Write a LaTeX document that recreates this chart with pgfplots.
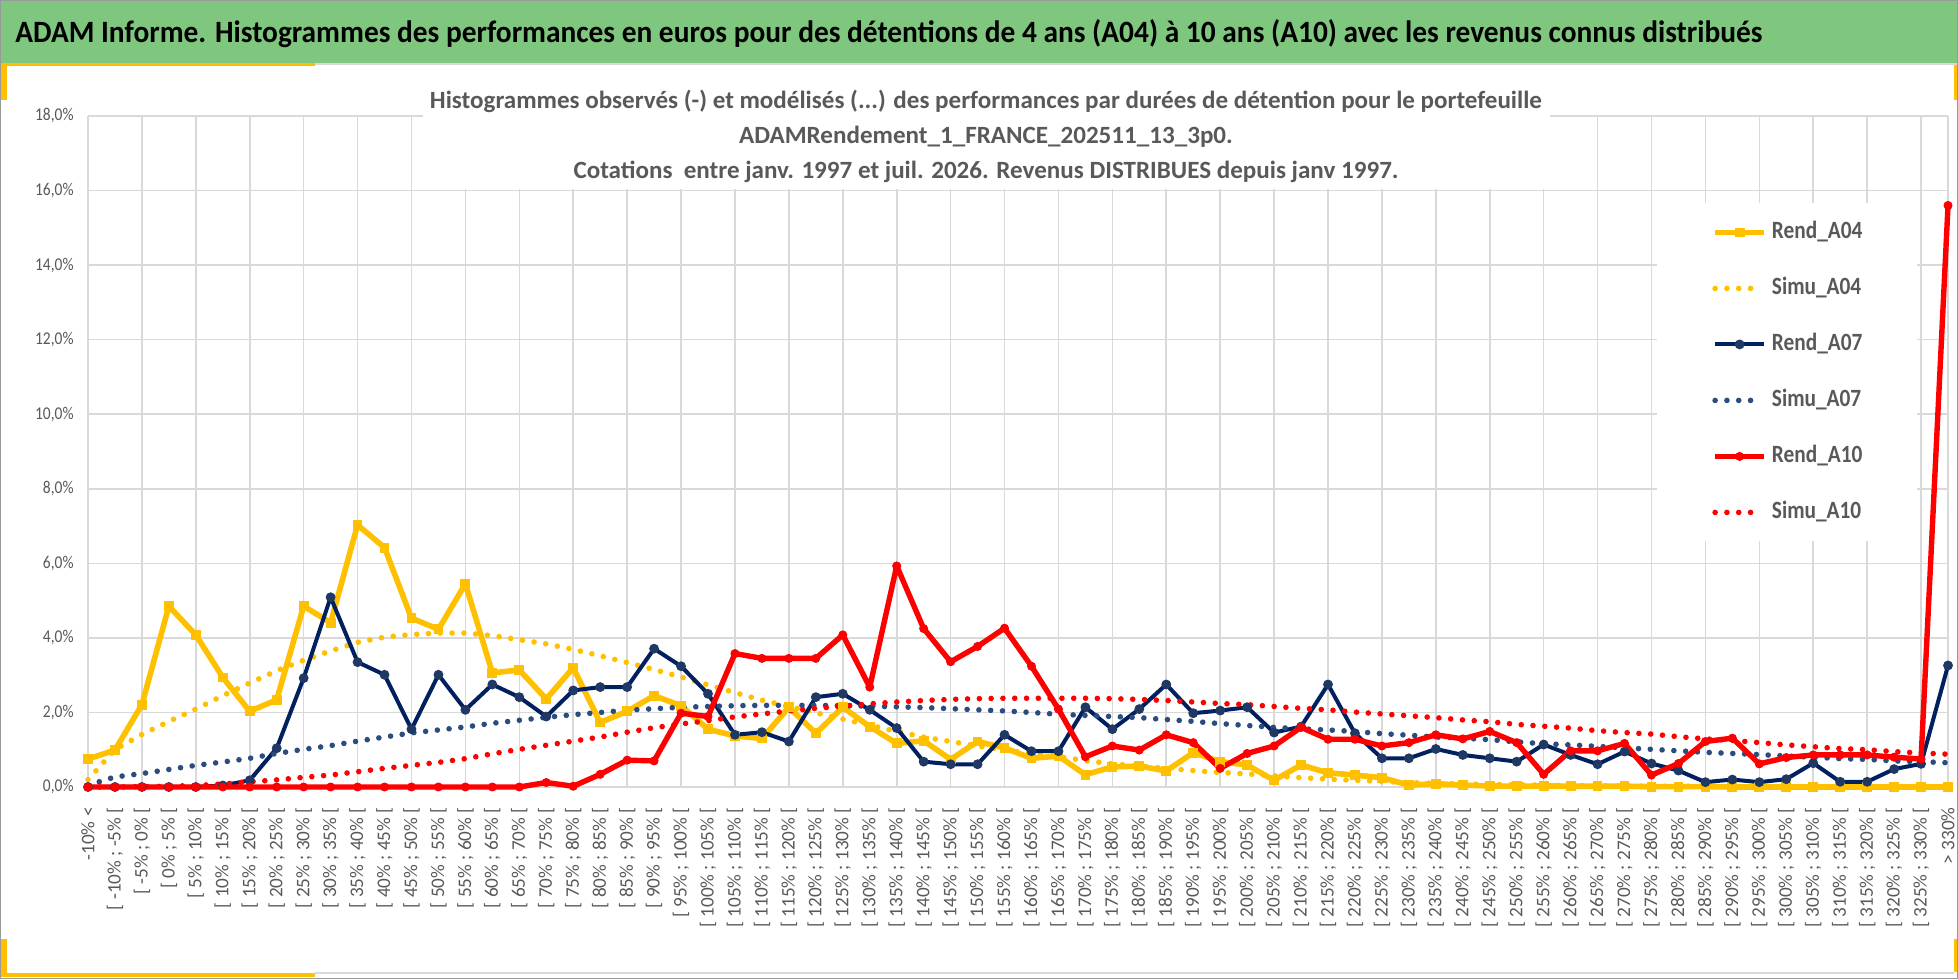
\documentclass[border=0pt]{standalone}
\usepackage{fontspec}
\setmainfont{Carlito}
\newfontfamily\sq{Carlito}[FakeStretch=0.86]
\usepackage{pgfplots}
\usepackage{pgfplotstable}
\pgfplotsset{compat=1.18}
\definecolor{gold}{HTML}{FFC000}
\definecolor{navy}{HTML}{002060}
\definecolor{navym}{HTML}{1F3864}
\definecolor{steel}{HTML}{2B4C7E}
\definecolor{txtgrey}{HTML}{595959}
\definecolor{gridgrey}{HTML}{D9D9D9}
\definecolor{band}{RGB}{127,199,127}
\newcommand\iv[2]{[ #1\% ; #2\% [}
\pgfplotsset{
  linelegend/.style={legend image code/.code={\draw[mark repeat=2,mark phase=2,##1] plot coordinates {(0pt,0pt) (12.25pt,0pt) (24.5pt,0pt)};}},
  dotlegend/.style={legend image code/.code={\draw[##1] (0pt,0pt) -- (18.5pt,0pt);}},
  dotline/.style={line width=2.8pt, line cap=round, dash pattern=on 0pt off 5.9pt, no marks, dotlegend},
}

\pgfplotstableread{
i r04 s04 r07 s07 r10 s10
0 0.75 0.20 0.00 0.05 0.00 0.00
1 0.99 1.00 0.00 0.27 0.00 0.00
2 2.21 1.41 0.00 0.36 0.00 0.01
3 4.85 1.76 0.00 0.47 0.00 0.02
4 4.08 2.09 0.00 0.58 0.00 0.04
5 2.94 2.45 0.04 0.67 0.00 0.08
6 2.03 2.79 0.18 0.77 0.00 0.14
7 2.34 3.12 1.04 0.90 0.00 0.19
8 4.85 3.40 2.92 1.01 0.00 0.26
9 4.41 3.65 5.09 1.11 0.00 0.32
10 7.03 3.88 3.35 1.23 0.00 0.41
11 6.42 4.02 3.01 1.34 0.00 0.50
12 4.53 4.09 1.55 1.45 0.00 0.58
13 4.23 4.13 3.01 1.53 0.00 0.66
14 5.45 4.13 2.07 1.61 0.00 0.76
15 3.06 4.06 2.75 1.71 0.00 0.89
16 3.14 3.95 2.41 1.79 0.00 1.01
17 2.36 3.84 1.89 1.87 0.12 1.12
18 3.20 3.69 2.59 1.94 0.02 1.23
19 1.73 3.52 2.68 2.00 0.34 1.34
20 2.03 3.34 2.68 2.06 0.72 1.47
21 2.45 3.15 3.71 2.10 0.70 1.59
22 2.18 2.95 3.24 2.14 1.98 1.69
23 1.55 2.74 2.50 2.16 1.89 1.78
24 1.37 2.53 1.40 2.18 3.58 1.88
25 1.30 2.33 1.47 2.19 3.45 1.96
26 2.14 2.16 1.22 2.19 3.45 2.04
27 1.44 1.99 2.41 2.19 3.45 2.11
28 2.14 1.82 2.50 2.18 4.08 2.17
29 1.62 1.66 2.07 2.17 2.68 2.23
30 1.17 1.49 1.58 2.15 5.93 2.28
31 1.24 1.34 0.68 2.13 4.25 2.32
32 0.74 1.22 0.61 2.10 3.36 2.35
33 1.22 1.10 0.61 2.07 3.77 2.37
34 1.05 0.99 1.40 2.04 4.26 2.38
35 0.77 0.90 0.96 2.00 3.24 2.38
36 0.83 0.81 0.96 1.95 2.09 2.38
37 0.33 0.71 2.14 1.92 0.81 2.38
38 0.54 0.62 1.55 1.89 1.10 2.37
39 0.56 0.56 2.09 1.86 0.99 2.35
40 0.43 0.50 2.75 1.81 1.40 2.32
41 0.92 0.44 1.98 1.76 1.19 2.28
42 0.68 0.39 2.05 1.70 0.50 2.24
43 0.59 0.35 2.14 1.65 0.90 2.21
44 0.18 0.30 1.46 1.60 1.10 2.16
45 0.59 0.25 1.62 1.56 1.60 2.11
46 0.38 0.21 2.75 1.53 1.28 2.07
47 0.32 0.18 1.44 1.49 1.28 2.01
48 0.25 0.15 0.77 1.43 1.10 1.96
49 0.05 0.12 0.77 1.39 1.19 1.91
50 0.09 0.10 1.02 1.34 1.40 1.86
51 0.05 0.08 0.86 1.31 1.29 1.80
52 0.03 0.07 0.77 1.27 1.49 1.75
53 0.02 0.06 0.68 1.21 1.19 1.68
54 0.03 0.05 1.14 1.16 0.34 1.63
55 0.02 0.04 0.86 1.13 0.97 1.58
56 0.02 0.03 0.61 1.09 0.97 1.51
57 0.02 0.03 0.95 1.05 1.17 1.46
58 0.01 0.02 0.63 1.01 0.32 1.42
59 0.01 0.02 0.44 0.97 0.63 1.35
60 0.01 0.02 0.13 0.93 1.22 1.29
61 0.00 0.01 0.20 0.90 1.31 1.25
62 0.00 0.01 0.13 0.87 0.62 1.19
63 0.00 0.01 0.21 0.83 0.79 1.13
64 0.00 0.01 0.64 0.80 0.86 1.08
65 0.00 0.01 0.14 0.76 0.86 1.03
66 0.00 0.01 0.14 0.74 0.86 1.00
67 0.00 0.01 0.48 0.70 0.80 0.95
68 0.00 0.01 0.62 0.68 0.75 0.91
69 0.00 0.01 3.26 0.65 15.60 0.88
}\data

\begin{document}
\begin{tikzpicture}
% background and frame
\fill[white] (0pt,0pt) rectangle (979pt,489.5pt);
\fill[band] (0pt,458pt) rectangle (979pt,489.5pt);
\fill[gridgrey] (0pt,457pt) rectangle (979pt,458pt);
\fill[gold] (0pt,456.5pt) rectangle (157.5pt,458pt);
\fill[gold] (0pt,439.5pt) rectangle (3.5pt,458pt);
\fill[gold] (977pt,439.5pt) rectangle (979pt,457pt);
\fill[gold] (0pt,1pt) rectangle (3.5pt,20pt);
\fill[gold] (0pt,1pt) rectangle (157.5pt,3pt);
\fill[gold] (977pt,3.5pt) rectangle (979pt,20pt);
\draw[gridgrey, line width=1pt] (157.5pt,3pt) -- (977pt,3pt);
\draw[gray!80, line width=0.6pt] (0.3pt,0.3pt) rectangle (978.7pt,489.2pt);
% main title
\node[anchor=base west, inner sep=0pt, font=\sq\bfseries\fontsize{15.5}{18}\selectfont, text=black]
  at (7.5pt,468pt) {\resizebox{873.5pt}{\height}{ADAM Informe. Histogrammes des performances en euros pour des détentions de 4 ans (A04) à 10 ans (A10) avec les revenus connus distribués}};

\begin{axis}[
  at={(44pt,96pt)}, anchor=south west,
  scale only axis, width=930pt, height=335.5pt,
  xmin=0, xmax=69, ymin=0, ymax=18,
  clip=false,
  axis line style={draw=none},
  major tick length=0pt,
  xtick={0,...,69},
  xticklabels={{-10\% <},{\iv{-10}{-5}},{\iv{-5}{0}},{\iv{0}{5}},{\iv{5}{10}},{\iv{10}{15}},{\iv{15}{20}},{\iv{20}{25}},{\iv{25}{30}},{\iv{30}{35}},{\iv{35}{40}},{\iv{40}{45}},{\iv{45}{50}},{\iv{50}{55}},{\iv{55}{60}},{\iv{60}{65}},{\iv{65}{70}},{\iv{70}{75}},{\iv{75}{80}},{\iv{80}{85}},{\iv{85}{90}},{\iv{90}{95}},{\iv{95}{100}},{\iv{100}{105}},{\iv{105}{110}},{\iv{110}{115}},{\iv{115}{120}},{\iv{120}{125}},{\iv{125}{130}},{\iv{130}{135}},{\iv{135}{140}},{\iv{140}{145}},{\iv{145}{150}},{\iv{150}{155}},{\iv{155}{160}},{\iv{160}{165}},{\iv{165}{170}},{\iv{170}{175}},{\iv{175}{180}},{\iv{180}{185}},{\iv{185}{190}},{\iv{190}{195}},{\iv{195}{200}},{\iv{200}{205}},{\iv{205}{210}},{\iv{210}{215}},{\iv{215}{220}},{\iv{220}{225}},{\iv{225}{230}},{\iv{230}{235}},{\iv{235}{240}},{\iv{240}{245}},{\iv{245}{250}},{\iv{250}{255}},{\iv{255}{260}},{\iv{260}{265}},{\iv{265}{270}},{\iv{270}{275}},{\iv{275}{280}},{\iv{280}{285}},{\iv{285}{290}},{\iv{290}{295}},{\iv{295}{300}},{\iv{300}{305}},{\iv{305}{310}},{\iv{310}{315}},{\iv{315}{320}},{\iv{320}{325}},{\iv{325}{330}},{> 330\%}},
  xticklabel style={rotate=90, anchor=east, inner sep=0pt, font=\fontsize{9.6}{10}\selectfont, text=txtgrey},
  xticklabel shift=10pt,
  ytick={0,2,...,18},
  yticklabels={{0,0\%},{2,0\%},{4,0\%},{6,0\%},{8,0\%},{10,0\%},{12,0\%},{14,0\%},{16,0\%},{18,0\%}},
  yticklabel style={anchor=east, inner sep=0pt, font=\sq\fontsize{9}{10}\selectfont, text=txtgrey},
  yticklabel shift=7pt,
  ymajorgrids, 
  extra x ticks={0,2,...,68,69},
  extra x tick labels={},
  extra x tick style={grid=major},
  major grid style={gridgrey, line width=0.8pt},
  every axis plot/.append style={line join=round},
  linelegend,
  legend style={at={(0.8435,0.8703)}, anchor=north west, draw=none, fill=white,
    inner xsep=27.5pt, inner ysep=8.5pt, row sep=16pt,
    font=\sq\bfseries\fontsize{12.4}{14}\selectfont, text=txtgrey,
    nodes={inner sep=0pt, text height=9pt, text depth=3pt}},
  legend cell align=left,
  /tikz/every odd column/.append style={column sep=2.5pt},
]
\addplot[gold, line width=2.8pt, mark=square*, mark size=2.2pt, mark options={solid, line width=0.5pt}] table[x=i,y=r04] \data;
\addlegendentry{Rend\_A04}
\addplot[gold, dotline] table[x=i,y=s04] \data;
\addlegendentry{Simu\_A04}
\addplot[navy, line width=2pt, mark=*, mark size=2.2pt, mark options={solid, fill=navym, draw=navym, line width=0.5pt}] table[x=i,y=r07] \data;
\addlegendentry{Rend\_A07}
\addplot[steel, dotline] table[x=i,y=s07] \data;
\addlegendentry{Simu\_A07}
\addplot[red, line width=2.7pt, mark=*, mark size=2pt, mark options={solid, fill=red, line width=0.5pt}] table[x=i,y=r10] \data;
\addlegendentry{Rend\_A10}
\addplot[red, dotline] table[x=i,y=s10] \data;
\addlegendentry{Simu\_A10}
\end{axis}

% chart title box
\fill[white] (211.5pt,395pt) rectangle (775pt,452pt);
\node[anchor=base, inner sep=0pt, font=\sq\bfseries\fontsize{12.4}{17.5}\selectfont, text=txtgrey] at (493pt,435pt)
 {\resizebox{556pt}{\height}{\begin{tabular}[t]{@{}c@{}}Histogrammes observés (-) et modélisés (...) des performances par durées de détention pour le portefeuille\\ADAMRendement\_1\_FRANCE\_202511\_13\_3p0.\\Cotations\ \ entre janv. 1997 et juil. 2026. Revenus DISTRIBUES depuis janv 1997.\end{tabular}}};

\pgfresetboundingbox
\useasboundingbox (0pt,0pt) rectangle (979pt,489.5pt);
\end{tikzpicture}
\end{document}
